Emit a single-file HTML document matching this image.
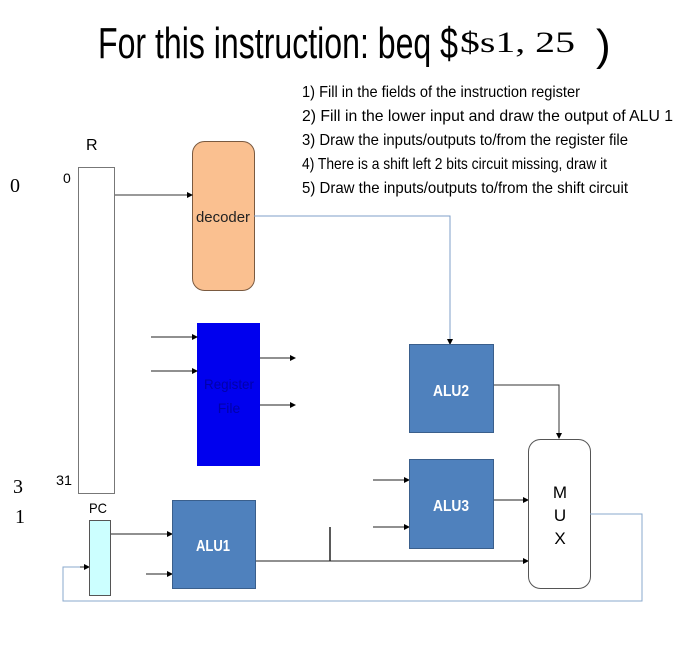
<!DOCTYPE html>
<html><head><meta charset="utf-8"><style>body{margin:0;background:#fff}svg{display:block}</style></head><body>
<svg width="700" height="653" viewBox="0 0 700 653" xmlns="http://www.w3.org/2000/svg">
<defs><marker id="a" markerWidth="6" markerHeight="6" refX="5" refY="3" orient="auto" markerUnits="userSpaceOnUse"><path d="M0,0 L6,3 L0,6 z" fill="#000"/></marker></defs>
<g font-family="Liberation Sans, sans-serif">
<text x="98" y="58" font-size="44" textLength="360" lengthAdjust="spacingAndGlyphs">For this instruction: beq $</text>
<text x="460" y="52" font-size="30" font-family="Liberation Serif, serif" textLength="115" lengthAdjust="spacingAndGlyphs">$s1, 25</text>
<text x="596" y="60" font-size="44" font-family="Liberation Sans, sans-serif">)</text>
<g font-size="16">
<text x="302" y="97" textLength="278" lengthAdjust="spacingAndGlyphs">1)  Fill in the fields of the instruction register</text>
<text x="302" y="121" textLength="371" lengthAdjust="spacingAndGlyphs">2)  Fill in the lower input and draw the output of ALU 1</text>
<text x="302" y="145" textLength="326" lengthAdjust="spacingAndGlyphs">3)  Draw the inputs/outputs to/from the register file</text>
<text x="302" y="169" textLength="305" lengthAdjust="spacingAndGlyphs">4)  There is a shift left 2 bits circuit missing, draw it</text>
<text x="302" y="193" textLength="326" lengthAdjust="spacingAndGlyphs">5)  Draw the inputs/outputs to/from the shift circuit</text>
</g>
<text x="10" y="192" font-size="20" font-family="Liberation Serif, serif">0</text>
<text x="13" y="493" font-size="20" font-family="Liberation Serif, serif">3</text>
<text x="15" y="523" font-size="20" font-family="Liberation Serif, serif">1</text>
<text x="86" y="150" font-size="16">R</text>
<text x="63" y="183" font-size="14">0</text>
<text x="56" y="485" font-size="14" textLength="16" lengthAdjust="spacingAndGlyphs">31</text>
<text x="89" y="513" font-size="14" textLength="18" lengthAdjust="spacingAndGlyphs">PC</text>
</g>
<rect x="78.5" y="167.5" width="36" height="326" fill="#fff" stroke="#777"/>
<rect x="192.5" y="141.5" width="62" height="149" rx="12" fill="#fac090" stroke="#7a5a40"/>
<text x="223" y="222" font-size="15" text-anchor="middle" font-family="Liberation Sans, sans-serif" textLength="54" lengthAdjust="spacingAndGlyphs" fill="#222">decoder</text>
<line x1="115" y1="195" x2="192" y2="195" stroke="#333" marker-end="url(#a)"/>
<polyline points="254,216 450,216 450,344" fill="none" stroke="#7f9fc8"/>
<rect x="197" y="323" width="63" height="143" fill="#0000ee"/>
<text x="229" y="389" font-size="14" text-anchor="middle" fill="#0000aa" font-family="Liberation Sans, sans-serif" textLength="50" lengthAdjust="spacingAndGlyphs">Register</text>
<text x="229" y="413" font-size="14" text-anchor="middle" fill="#0000aa" font-family="Liberation Sans, sans-serif">File</text>
<g stroke="#222" marker-end="url(#a)">
<line x1="151" y1="337" x2="197" y2="337"/>
<line x1="151" y1="371" x2="197" y2="371"/>
<line x1="260" y1="358" x2="295" y2="358"/>
<line x1="260" y1="405" x2="295" y2="405"/>
<line x1="373" y1="480" x2="409" y2="480"/>
<line x1="373" y1="527" x2="409" y2="527"/>
<line x1="493" y1="500" x2="528" y2="500"/>
<line x1="255" y1="561" x2="528" y2="561"/>
<line x1="110" y1="534" x2="172" y2="534"/>
<line x1="146" y1="574" x2="172" y2="574"/>
<line x1="450" y1="330" x2="450" y2="344" stroke="#7f9fc8"/>
</g>
<polyline points="493,385 559,385 559,438" fill="none" stroke="#333" marker-end="url(#a)"/>
<g fill="#4f81bd" stroke="#3a5f8c">
<rect x="409.5" y="344.5" width="84" height="88"/>
<rect x="409.5" y="459.5" width="84" height="89"/>
<rect x="172.5" y="500.5" width="83" height="88"/>
</g>
<g fill="#fff" font-size="16" font-weight="bold" text-anchor="middle" font-family="Liberation Sans, sans-serif">
<text x="451" y="396" textLength="36" lengthAdjust="spacingAndGlyphs">ALU2</text>
<text x="451" y="511" textLength="36" lengthAdjust="spacingAndGlyphs">ALU3</text>
<text x="213" y="551" textLength="34" lengthAdjust="spacingAndGlyphs">ALU1</text>
</g>
<rect x="528.5" y="439.5" width="62" height="149" rx="12" fill="#fff" stroke="#555"/>
<g font-size="17" text-anchor="middle" font-family="Liberation Sans, sans-serif">
<text x="560" y="498">M</text><text x="560" y="521">U</text><text x="560" y="544">X</text>
</g>
<line x1="330" y1="527" x2="330" y2="561" stroke="#222" stroke-width="1.5"/>
<polyline points="590,514 642,514 642,601 63,601 63,567 88,567" fill="none" stroke="#8aa8cc"/>
<line x1="80" y1="567" x2="89" y2="567" stroke="#222" marker-end="url(#a)"/>
<rect x="89.5" y="520.5" width="21" height="75" fill="#ccffff" stroke="#555"/>
</svg>
</body></html>
